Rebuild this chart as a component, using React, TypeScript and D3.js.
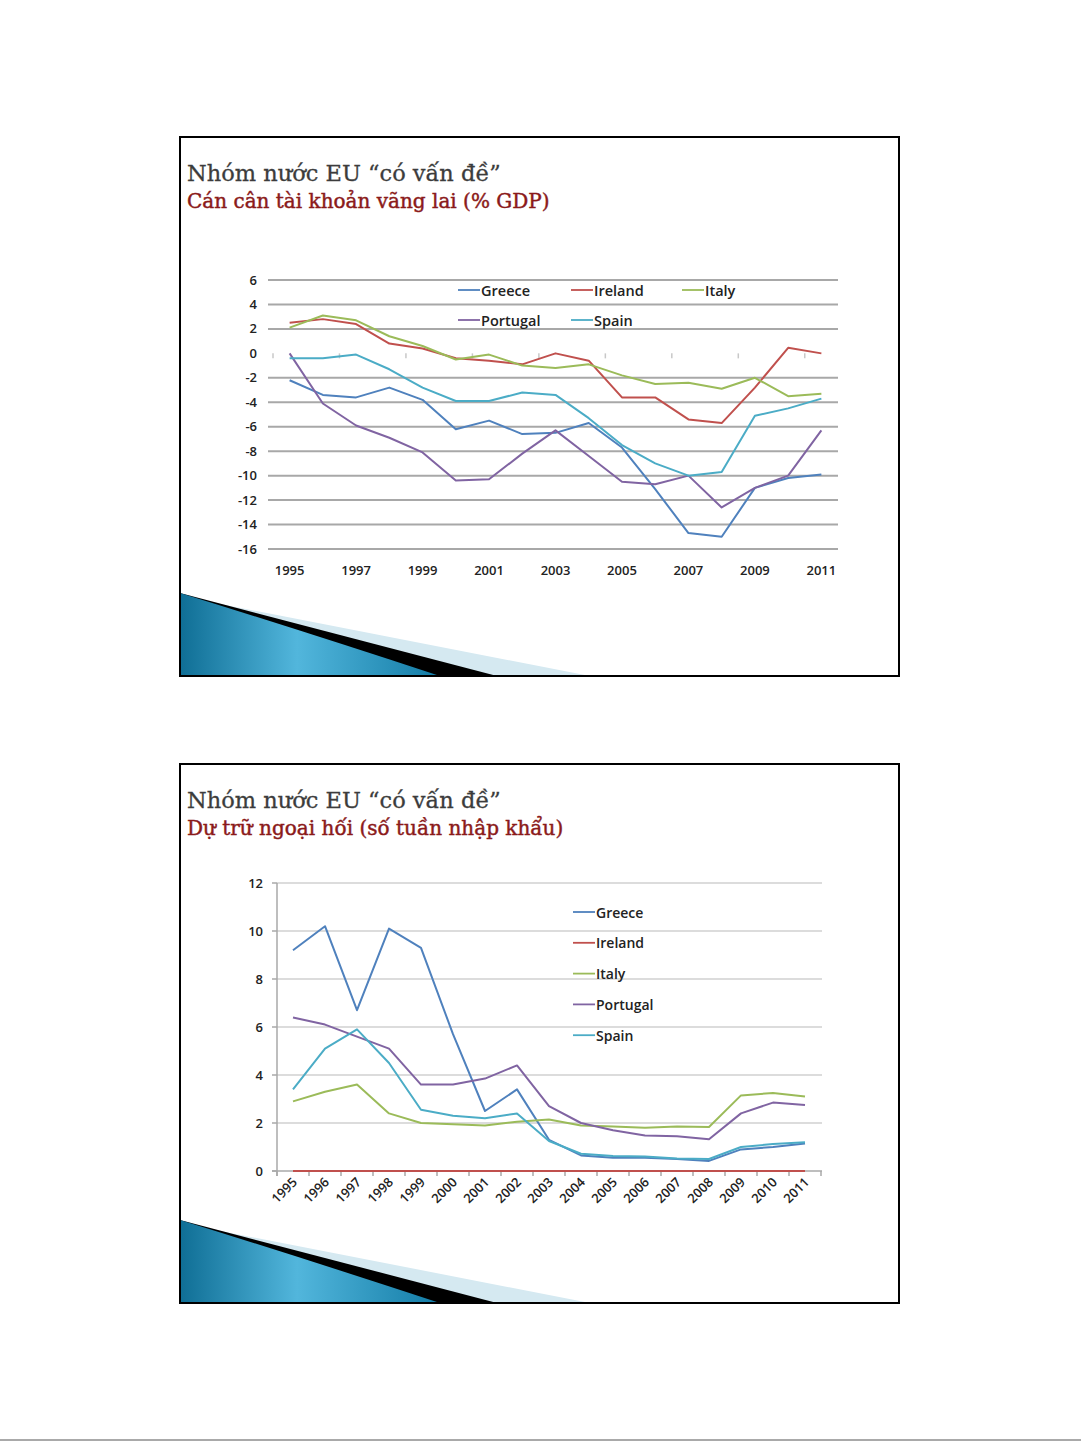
import React from "react";
import * as d3 from "d3";

const years = d3.range(1995, 2012).map(String);

// Chart 1: current account balance (% GDP)
const caGreece = [-2.2, -3.4, -3.6, -2.8, -3.8, -6.2, -5.5, -6.6, -6.5, -5.7, -7.7, -11.1, -14.7, -15.0, -11.0, -10.2, -9.9];
const caIreland = [2.5, 2.8, 2.4, 0.8, 0.4, -0.4, -0.6, -0.9, 0.0, -0.6, -3.6, -3.6, -5.4, -5.7, -2.8, 0.45, 0.0];
const caItaly = [2.1, 3.1, 2.7, 1.4, 0.6, -0.5, -0.1, -1.0, -1.2, -0.9, -1.8, -2.5, -2.4, -2.9, -2.0, -3.5, -3.3];
const caPortugal = [0.0, -4.1, -5.9, -6.9, -8.1, -10.4, -10.3, -8.2, -6.3, -8.4, -10.5, -10.7, -10.0, -12.6, -11.0, -10.0, -6.3];
const caSpain = [-0.4, -0.4, -0.1, -1.3, -2.8, -3.9, -3.9, -3.2, -3.4, -5.3, -7.5, -9.0, -10.0, -9.7, -5.1, -4.5, -3.7];
const caTicks = [6, 4, 2, 0, -2, -4, -6, -8, -10, -12, -14, -16];
const caYearLabels = ["1995", "1997", "1999", "2001", "2003", "2005", "2007", "2009", "2011"];

// Chart 2: foreign reserves (weeks of imports)
const frGreece = [9.2, 10.2, 6.7, 10.1, 9.3, 5.7, 2.5, 3.4, 1.3, 0.65, 0.55, 0.55, 0.5, 0.42, 0.9, 1.0, 1.15];
const frIreland = [0, 0, 0, 0, 0, 0, 0, 0, 0, 0, 0, 0, 0, 0, 0, 0, 0];
const frItaly = [2.9, 3.3, 3.6, 2.4, 2.0, 1.95, 1.9, 2.05, 2.15, 1.9, 1.85, 1.8, 1.85, 1.83, 3.15, 3.25, 3.1];
const frPortugal = [6.4, 6.1, 5.6, 5.1, 3.6, 3.6, 3.85, 4.4, 2.7, 2.0, 1.7, 1.48, 1.45, 1.32, 2.4, 2.85, 2.75];
const frSpain = [3.4, 5.1, 5.9, 4.5, 2.55, 2.3, 2.2, 2.4, 1.25, 0.72, 0.62, 0.6, 0.52, 0.5, 1.0, 1.12, 1.2];
const frTicks = [0, 2, 4, 6, 8, 10, 12];

const countries = ["Greece", "Ireland", "Italy", "Portugal", "Spain"];
const colors = ["#4F81BD", "#C0504D", "#9BBB59", "#8064A2", "#4BACC6"];

const caSeries = [caGreece, caIreland, caItaly, caPortugal, caSpain];
const frSeries = [frGreece, frIreland, frItaly, frPortugal, frSpain];

const TITLE = "Nhóm nước EU “có vấn đề”";
const SUB1 = "Cán cân tài khoản vãng lai (% GDP)";
const SUB2 = "Dự trữ ngoại hối (số tuần nhập khẩu)";

const sans = "'Open Sans', 'DejaVu Sans', sans-serif";
const serif = "'DejaVu Serif', 'Liberation Serif', serif";

function Frame({ y0, gid }: { y0: number; gid: string }) {
  const x0 = 180, x1 = 899, h = 539;
  const yb = y0 + h;
  const top = y0 + 456;
  return (
    <g>
      <defs>
        <linearGradient id={gid} x1="0" y1="0" x2="1" y2="0">
          <stop offset="0" stopColor="#0F6E95" />
          <stop offset="0.45" stopColor="#52B6DC" />
          <stop offset="1" stopColor="#137CA6" />
        </linearGradient>
      </defs>
      <path d={`M${x0},${top} L${x0 + 20},${top + 7} L590,${yb} L${x0},${yb} Z`} fill="#D5E9F1" />
      <path d={`M${x0},${top} L497,${yb} L${x0},${yb} Z`} fill="#000" />
      <path d={`M${x0},${top} Q300,${top + 37} 440,${yb} L${x0},${yb} Z`} fill={`url(#${gid})`} />
      <rect x={x0} y={y0} width={x1 - x0} height={h} fill="none" stroke="#000" strokeWidth={2} />
    </g>
  );
}

function Titles({ y0, sub }: { y0: number; sub: string }) {
  return (
    <g>
      <text x={187} y={y0 + 44} fontFamily={serif} fontSize={22.5} fill="#3C3C3C" stroke="#3C3C3C" strokeWidth={0.3}>{TITLE}</text>
      <text x={187} y={y0 + 71} fontFamily={serif} fontSize={20} fill="#8B1A1A" stroke="#8B1A1A" strokeWidth={0.45}>{sub}</text>
    </g>
  );
}

function ChartTop() {
  const x = d3.scaleBand<string>().domain(years).range([273, 838]);
  const y = d3.scaleLinear().domain([-16, 6]).range([549, 280]);
  const cx = (d: string) => (x(d) as number) + x.bandwidth() / 2;
  const line = d3.line<number>().x((_, i) => cx(years[i])).y((v) => y(v));
  const boundaries = d3.range(0, years.length + 1, 2).map((k) => 273 + k * x.step());
  const legend = [
    { i: 0, lx: 458, ly: 290 },
    { i: 1, lx: 571, ly: 290 },
    { i: 2, lx: 682, ly: 290 },
    { i: 3, lx: 458, ly: 320 },
    { i: 4, lx: 571, ly: 320 },
  ];
  return (
    <g>
      {caTicks.filter((t) => t !== 0).map((t) => (
        <line key={t} x1={268} x2={838} y1={y(t)} y2={y(t)} stroke="#A8A8A8" strokeWidth={2} />
      ))}
      {boundaries.map((b, k) => (
        <line key={k} x1={b} x2={b} y1={y(0)} y2={y(0) + 5} stroke="#C8C8C8" strokeWidth={1.5} />
      ))}
      {caTicks.map((t) => (
        <text key={t} x={257} y={y(t) + 4.5} textAnchor="end" fontFamily={sans} fontWeight={600} fontSize={13} fill="#222">{t}</text>
      ))}
      {caYearLabels.map((yr) => (
        <text key={yr} x={cx(yr)} y={575} textAnchor="middle" fontFamily={sans} fontWeight={600} fontSize={13} fill="#222">{yr}</text>
      ))}
      {caSeries.map((s, i) => (
        <path key={i} d={line(s) as string} fill="none" stroke={colors[i]} strokeWidth={2} strokeLinejoin="round" />
      ))}
      {legend.map(({ i, lx, ly }) => (
        <g key={i}>
          <line x1={lx} x2={lx + 22} y1={ly} y2={ly} stroke={colors[i]} strokeWidth={1.8} />
          <text x={lx + 23} y={ly + 5.5} fontFamily={sans} fontWeight={600} fontSize={14.5} fill="#222">{countries[i]}</text>
        </g>
      ))}
    </g>
  );
}

function ChartBottom() {
  const x = d3.scaleBand<string>().domain(years).range([277, 821]);
  const y = d3.scaleLinear().domain([0, 12]).range([1171, 883]);
  const cx = (d: string) => (x(d) as number) + x.bandwidth() / 2;
  const line = d3.line<number>().x((_, i) => cx(years[i])).y((v) => y(v));
  const boundaries = d3.range(0, years.length + 1).map((k) => 277 + k * x.step());
  return (
    <g>
      {frTicks.filter((t) => t !== 0).map((t) => (
        <line key={t} x1={277} x2={822} y1={y(t)} y2={y(t)} stroke="#D0D0D0" strokeWidth={1.6} />
      ))}
      <line x1={277} x2={277} y1={y(12)} y2={y(0) + 5} stroke="#A8A8A8" strokeWidth={1.5} />
      {frTicks.map((t) => (
        <line key={"t" + t} x1={272} x2={277} y1={y(t)} y2={y(t)} stroke="#A8A8A8" strokeWidth={1.5} />
      ))}
      <line x1={272} x2={822} y1={y(0)} y2={y(0)} stroke="#A8A8A8" strokeWidth={1.5} />
      {boundaries.map((b, k) => (
        <line key={k} x1={b} x2={b} y1={y(0)} y2={y(0) + 5} stroke="#A8A8A8" strokeWidth={1.5} />
      ))}
      {frTicks.map((t) => (
        <text key={t} x={263} y={y(t) + 4.5} textAnchor="end" fontFamily={sans} fontWeight={600} fontSize={13} fill="#222">{t}</text>
      ))}
      {years.map((yr) => (
        <text key={yr} transform={`translate(${cx(yr) + 5},${y(0) + 12}) rotate(-45)`} textAnchor="end" fontFamily={sans} fontWeight={600} fontSize={13} fill="#222">{yr}</text>
      ))}
      {frSeries.map((s, i) => (
        <path key={i} d={line(s) as string} fill="none" stroke={colors[i]} strokeWidth={2} strokeLinejoin="round" />
      ))}
      {countries.map((c, i) => {
        const ly = 912 + i * 30.8;
        return (
          <g key={c}>
            <line x1={573} x2={595} y1={ly} y2={ly} stroke={colors[i]} strokeWidth={1.8} />
            <text x={596} y={ly + 5.5} fontFamily={sans} fontWeight={600} fontSize={14} fill="#222">{c}</text>
          </g>
        );
      })}
    </g>
  );
}

export default function App() {
  return (
    <svg width={1081} height={1441} viewBox="0 0 1081 1441" style={{ position: "absolute", left: 0, top: 0, background: "#fff" }}>
      <rect x={0} y={0} width={1081} height={1441} fill="#fff" />
      <Frame y0={137} gid="g1" />
      <Titles y0={137} sub={SUB1} />
      <ChartTop />
      <Frame y0={764} gid="g2" />
      <Titles y0={764} sub={SUB2} />
      <ChartBottom />
      <line x1={0} x2={1081} y1={1440} y2={1440} stroke="#555" strokeWidth={1} />
    </svg>
  );
}
